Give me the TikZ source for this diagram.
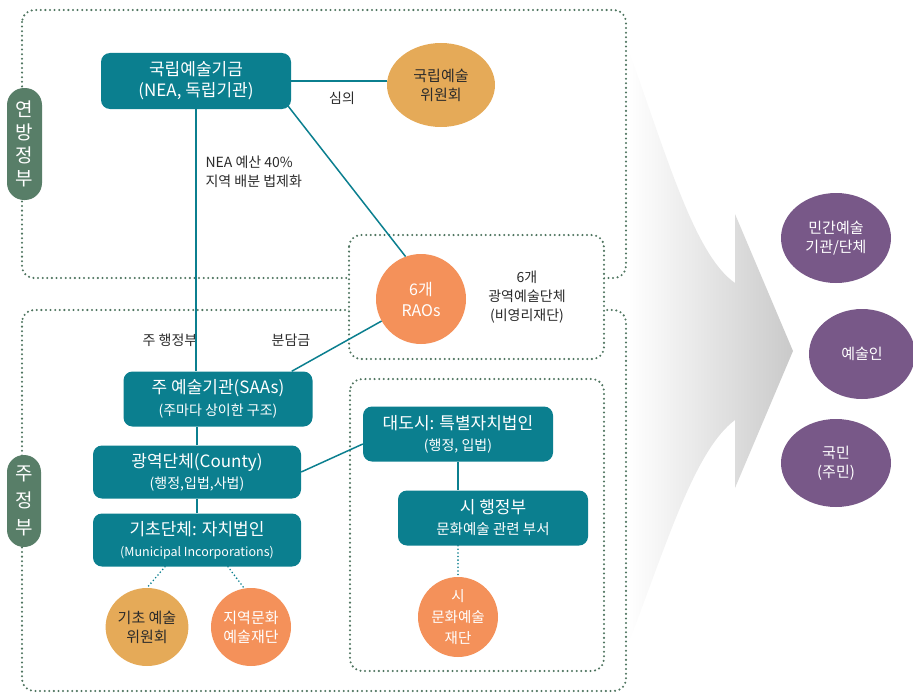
\documentclass[tikz,border=0pt]{standalone}
\usepackage{fontspec}
\setmainfont{Noto Sans CJK KR}
\usepackage{xcolor}
\usepackage{tikz}
\usetikzlibrary{shapes.geometric}
\definecolor{tealbox}{HTML}{0B7F8F}
\definecolor{goldfill}{HTML}{E5AA58}
\definecolor{orangefill}{HTML}{F4915A}
\definecolor{purplefill}{HTML}{785888}
\definecolor{zonegreen}{HTML}{4F7560}
\definecolor{pillgreen}{HTML}{587E68}
\definecolor{inkc}{HTML}{2B2B2B}
\tikzset{
  tbox/.style={rectangle, rounded corners=9pt, fill=tealbox, text=white, align=center,
               inner sep=2pt, font=\fontsize{17}{21}\selectfont},
  blob/.style={ellipse, inner sep=0pt, align=center, font=\fontsize{15}{19}\selectfont},
  goldb/.style={blob, fill=goldfill, text=inkc},
  orangeb/.style={blob, fill=orangefill, text=white},
  purpleb/.style={blob, fill=purplefill, text=white},
  zone/.style={draw=zonegreen, line width=2.3pt, dash pattern=on 0pt off 4.6pt,
               line cap=round, rounded corners=12pt},
  link/.style={draw=tealbox, line width=1.5pt},
  dlink/.style={link, line width=1.8pt, dash pattern=on 0pt off 3.6pt, line cap=round},
  pill/.style={rectangle, rounded corners=17pt, fill=pillgreen, text=white, align=center,
               inner sep=0pt, font=\fontsize{19}{23}\selectfont},
  note/.style={text=inkc, align=center, font=\fontsize{14}{19}\selectfont},
}
\newcommand{\boxsub}[1]{{\fontsize{14}{17}\selectfont #1}}

\begin{document}
\begin{tikzpicture}[x=1pt, y=-1pt]
  \useasboundingbox (0,0) rectangle (913,693);
  \shade[left color=white, right color=black!21]
    (628,48) .. controls (668,160) and (695,255) .. (735,283) -- (735,214) -- (793,351)
    -- (735,488) -- (735,420) .. controls (695,450) and (668,540) .. (628,645) -- cycle;
  \draw[zone] (22,10) rectangle (626,278);
  \draw[zone] (22,310) rectangle (626,691);
  \draw[zone, fill=white] (349,235) rectangle (604,359);
  \draw[zone, fill=white] (350,379) rectangle (604,671);

  \node[pill, minimum width=35pt, minimum height=112pt] (fedtag) at (24.5,144) {연\\방\\정\\부};
  \node[pill, font=\fontsize{19}{27}\selectfont, minimum width=34pt, minimum height=92pt] (statetag) at (24,501) {주\\정\\부};

  \node[tbox, minimum width=190pt, minimum height=56pt] (nea) at (196,81) {국립예술기금\\(NEA, 독립기관)};
  \node[goldb, minimum width=108pt, minimum height=84pt] (council) at (441,85) {국립예술\\위원회};
  \node[orangeb, font=\fontsize{16}{21}\selectfont, minimum width=90pt, minimum height=90pt] (rao) at (421,299) {6개\\RAOs};
  \node[tbox, minimum width=189pt, minimum height=55pt] (saa) at (218,399) {주 예술기관(SAAs)\\[1pt]\boxsub{(주마다 상이한 구조)}};
  \node[tbox, minimum width=208pt, minimum height=53pt] (county) at (197,472) {광역단체(County)\\\boxsub{(행정,입법,사법)}};
  \node[tbox, minimum width=208pt, minimum height=53pt] (muni) at (197,540) {기초단체: 자치법인\\{\fontsize{12.5}{15}\selectfont (Municipal Incorporations)}};
  \node[tbox, minimum width=190pt, minimum height=55pt] (metro) at (458,434) {대도시: 특별자치법인\\\boxsub{(행정, 입법)}};
  \node[tbox, minimum width=190pt, minimum height=55pt] (city) at (493,518) {시 행정부\\{\fontsize{14.5}{17}\selectfont 문화예술 관련 부서}};
  \node[goldb, minimum width=80pt, minimum height=78pt] (basec) at (147,627) {기초 예술\\위원회};
  \node[orangeb, minimum width=80pt, minimum height=78pt] (regf) at (251,627) {지역문화\\예술재단};
  \node[orangeb, font=\fontsize{14.5}{21}\selectfont, minimum width=80pt, minimum height=80pt] (cityf) at (458,617) {시\\문화예술\\재단};

  \node[purpleb, minimum width=110pt, minimum height=90pt] (private) at (836,238) {민간예술\\기관/단체};
  \node[purpleb, minimum width=106pt, minimum height=90pt] (artist) at (862,354) {예술인};
  \node[purpleb, minimum width=110pt, minimum height=88pt] (citizen) at (836,463) {국민\\(주민)};

  \node[note, anchor=west, align=left] (neanote) at (202,172) {NEA 예산 40\%\\지역 배분 법제화};
  \node[note] (simui) at (342,98) {심의};
  \node[note] (stategov) at (170,340) {주 행정부};
  \node[note] (contrib) at (291,340) {분담금};
  \node[note] (raonote) at (527,297) {6개\\광역예술단체\\(비영리재단)};

  \draw[link] (nea.east) -- (nea.east -| council.west);
  \draw[link] (nea.south) -- (nea.south |- saa.north);
  \draw[link] ([xshift=-3pt,yshift=3pt]nea.south east) -- (rao.110);
  \draw[link] (rao) -- ([xshift=-21pt]saa.north east);
  \draw[link] (county.north) -- (county.north |- saa.south);
  \draw[link] (muni.north) -- (county.south);
  \draw[link] (county.east) -- ([yshift=-10pt]metro.west);
  \draw[link] (metro.south) -- (metro.south |- city.north);
  \draw[dlink] (cityf.north |- city.south) -- (cityf.north);
  \draw[dlink] ([xshift=-32pt]muni.south) -- (basec.north);
  \draw[dlink] ([xshift=31pt]muni.south) -- (regf.100);
\end{tikzpicture}
\end{document}
